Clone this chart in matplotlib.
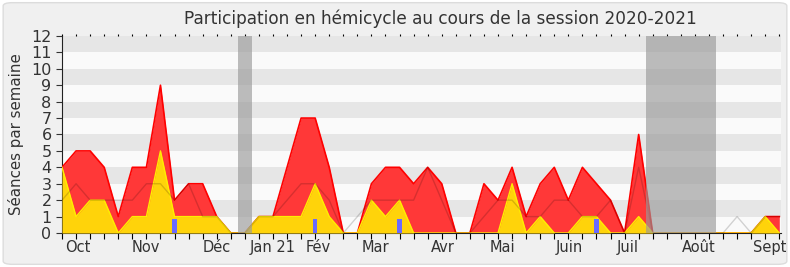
import numpy as np
from matplotlib import pyplot as plt
from matplotlib.patches import FancyBboxPatch

# weekly values, session 2020-2021 (week 0 = end of September)
weeks = np.arange(52)
presences = [4, 5, 5, 4, 1, 4, 4, 9, 2, 3, 3, 1, 0, 0, 1, 1, 4, 7, 7, 4,
             0, 0, 3, 4, 4, 3, 4, 3, 0, 0, 3, 2, 4, 1, 3, 4, 2, 4, 3, 2,
             0, 6, 0, 0, 0, 0, 0, 0, 0, 0, 1, 1]
interventions = [4, 1, 2, 2, 0, 1, 1, 5, 1, 1, 1, 1, 0, 0, 1, 1, 1, 1, 3, 1,
                 0, 0, 2, 1, 2, 0, 0, 0, 0, 0, 0, 0, 3, 0, 1, 0, 0, 1, 1, 0,
                 0, 1, 0, 0, 0, 0, 0, 0, 0, 0, 1, 0]
mediane = [2, 3, 2, 2, 2, 2, 3, 3, 2, 3, 1, 1, 0, 0, 1, 1, 2, 3, 3, 2,
           0, 1, 2, 2, 2, 2, 4, 2, 0, 0, 1, 2, 2, 1, 1, 2, 2, 1, 1, 2,
           0, 4, 0, 0, 0, 0, 0, 0, 1, 0, 1, 1]
questions_weeks = [8, 18, 24, 38]
questions_height = [0.87, 0.87, 0.87, 0.87]
vacances = [(12.5, 13.5), (41.5, 46.5)]

month_labels = ["Oct", "Nov", "Déc", "Jan 21", "Fév", "Mar", "Avr", "Mai",
                "Juin", "Juil", "Août", "Sept"]
month_pos = [1.12, 5.99, 11.0, 15.0, 18.2, 22.3, 27.1, 31.3, 36.1, 40.2, 45.3, 50.3]

fig = plt.figure(figsize=(7.9, 2.67), dpi=100)
fig.patch.set_facecolor("white")
fig.patches.append(FancyBboxPatch((0.004, 0.01), 0.992, 0.98,
                                  boxstyle="round,pad=0,rounding_size=0.012",
                                  transform=fig.transFigure, facecolor="#f0f0f0",
                                  edgecolor="#dcdcdc", lw=1, zorder=-10))
ax = fig.add_axes([0.0785, 0.1273, 0.9101, 0.738])
ax.set_facecolor("#fafafa")

for lo in range(1, 12, 2):
    ax.axhspan(lo, lo + 1, color="#e6e6e6", lw=0, zorder=0)

ax.fill_between(weeks, presences, color="#ff3838", lw=0, zorder=2)
ax.plot(weeks, presences, color="#ff0000", lw=1.2, zorder=3)
ax.fill_between(weeks, interventions, color="#ffd30a", lw=0, zorder=4)
ax.plot(weeks, interventions, color="#ffee00", lw=1, zorder=5)
ax.plot(weeks, mediane, color="black", alpha=0.16, lw=1, zorder=6)
ax.bar(questions_weeks, questions_height, width=0.32, color="#6a6aff", zorder=7)

for a, b in vacances:
    ax.axvspan(a, b, color="#9a9a9a", alpha=0.65, lw=0, zorder=8)

ax.set_xlim(0, 51.12)
ax.set_ylim(0, 12)
ax.set_yticks(range(13))
ax.tick_params(axis="y", labelsize=11.5, colors="#333333", length=4)
ax.set_xticks(weeks)
ax.set_xticklabels([])
ax.tick_params(axis="x", which="major", length=4, top=True, direction="out")
for t in ax.xaxis.get_major_ticks():
    t.tick2line.set_markersize(1.2)

trans = ax.get_xaxis_transform()
for pos, lab in zip(month_pos, month_labels):
    ax.text(pos, -0.035, lab, transform=trans, ha="center", va="top",
            fontsize=10.5, color="#333333")

for s in ["top", "right"]:
    ax.spines[s].set_visible(False)
ax.spines["left"].set_color("#222222")
ax.spines["bottom"].set_color("#222222")

ax.set_ylabel("Séances par semaine", fontsize=10.8, color="#333333", labelpad=5)
fig.text(0.558, 0.93, "Participation en hémicycle au cours de la session 2020-2021",
         fontsize=12.2, color="#333333", ha="center", va="center")

fig.savefig("out.png", dpi=100)
